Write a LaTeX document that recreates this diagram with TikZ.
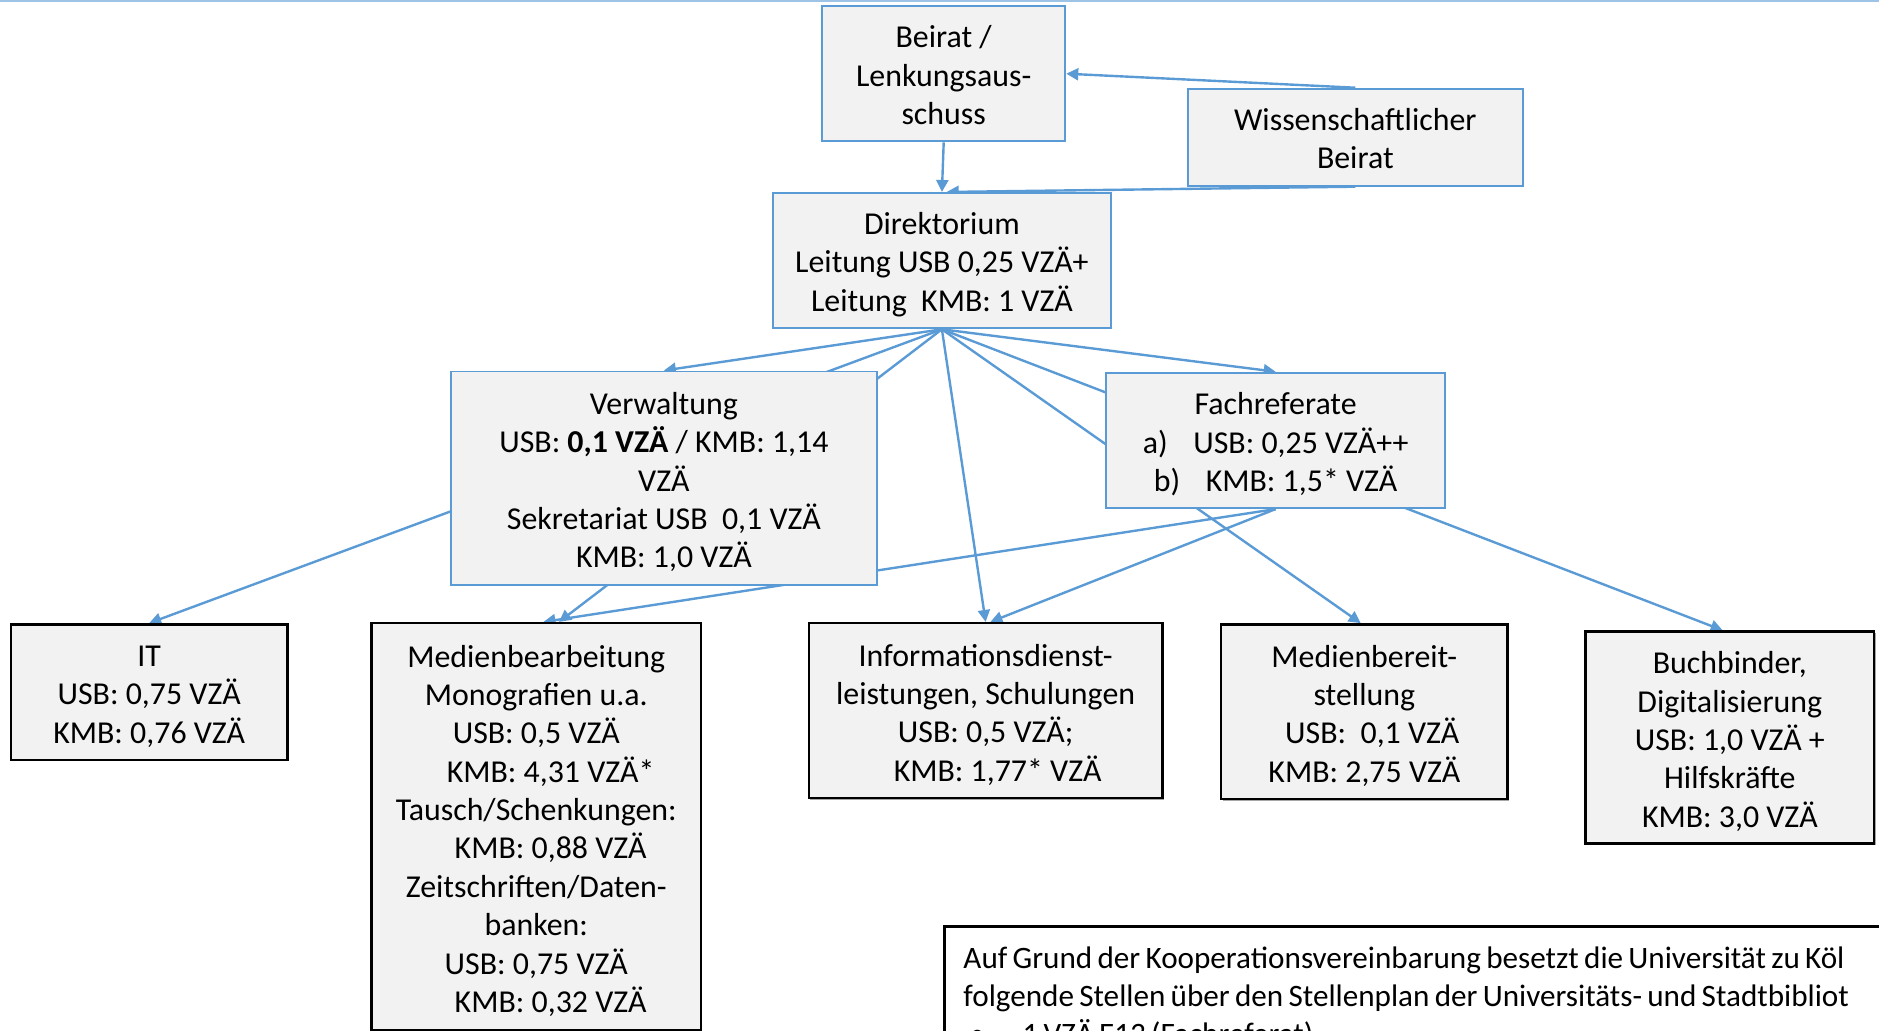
\documentclass[tikz,border=0pt]{standalone}
\usepackage{fontspec}
\setmainfont{Carlito}
\usetikzlibrary{arrows.meta,calc,backgrounds,shadows}
\definecolor{accent}{HTML}{5B9BD5}
\definecolor{boxgray}{HTML}{F2F2F2}
\definecolor{topline}{HTML}{9DC3E6}
\newcommand{\tstrut}{\rule{0pt}{12.5pt}}
\newcommand{\sstrut}{\rule{0pt}{10.5pt}}
\begin{document}
\begin{tikzpicture}[x=0.5pt,y=-0.5pt,
  box/.style={rectangle, fill=boxgray, align=center, inner sep=0pt, font=\fontsize{13.3}{16}\selectfont},
  bluebox/.style={box, draw=accent, line width=0.8pt},
  blackbox/.style={box, draw=black, line width=1pt, drop shadow={shadow xshift=0.6pt, shadow yshift=-0.6pt, opacity=0.35, fill=black}},
  conn/.style={draw=accent, line width=1pt, -{Triangle[length=5pt,width=5pt]}}]
\useasboundingbox (0,0) rectangle (1568,860);
\clip (0,0) rectangle (1568,860);
\draw[topline, line width=0.8pt] (0,0.6) -- (1568,0.6);

\node[bluebox, minimum width=101.5pt, minimum height=56.5pt] (beirat) at (787.5,61.5) {\sstrut Beirat /\\Lenkungsaus-\\schuss};
\node[bluebox, minimum width=140pt, minimum height=40.5pt] (wiss) at (1131,114.5) {\sstrut Wissenschaftlicher\\Beirat};
\node[bluebox, minimum width=141pt, minimum height=56.5pt] (dir) at (786,217.5) {\tstrut Direktorium\\Leitung USB 0,25 VZÄ+\\Leitung\ \ KMB: 1 VZÄ};
\node[bluebox, minimum width=178pt, minimum height=89pt] (verw) at (554,399) {\tstrut Verwaltung\\USB: \textbf{0,1 VZÄ} / KMB: 1,14\\VZÄ\\Sekretariat USB\ \ 0,1 VZÄ\\KMB: 1,0 VZÄ};
\node[bluebox, minimum width=141.5pt, minimum height=56.5pt] (fach) at (1064.5,367.5) {\tstrut Fachreferate\\a)\hspace{0.8em}USB: 0,25 VZÄ++\\b)\hspace{0.8em}KMB: 1,5* VZÄ};

\node[blackbox, minimum width=115.5pt, minimum height=56.5pt] (it) at (124.5,577.5) {\tstrut IT\\USB: 0,75 VZÄ\\KMB: 0,76 VZÄ};
\node[blackbox, minimum width=137.5pt, minimum height=170pt] (med) at (447.5,690) {\tstrut Medienbearbeitung\\Monografien u.a.\\USB: 0,5 VZÄ\\\hspace*{0.9em}KMB: 4,31 VZÄ*\\Tausch/Schenkungen:\\\hspace*{0.9em}KMB: 0,88 VZÄ\\Zeitschriften/Daten-\\banken:\\USB: 0,75 VZÄ\\\hspace*{0.9em}KMB: 0,32 VZÄ};
\node[blackbox, minimum width=147.5pt, minimum height=73pt] (info) at (822.5,593) {\tstrut Informationsdienst-\\leistungen, Schulungen\\USB: 0,5 VZÄ;\\\hspace*{0.75em}KMB: 1,77* VZÄ};
\node[blackbox, minimum width=119.5pt, minimum height=73pt] (mbs) at (1138.5,594) {\tstrut Medienbereit-\\stellung\\\hspace*{0.5em}USB:\ \ 0,1 VZÄ\\KMB: 2,75 VZÄ};
\node[blackbox, minimum width=120.5pt, minimum height=88.5pt] (buch) at (1443.5,615.5) {\tstrut Buchbinder,\\Digitalisierung\\USB: 1,0 VZÄ +\\Hilfskräfte\\KMB: 3,0 VZÄ};

\node[draw=black, line width=1pt, fill=white, anchor=north west, align=left, text width=700pt, inner xsep=8pt, inner ysep=5pt, font=\fontsize{13pt}{16pt}\selectfont] (note) at (787,772) {\spaceskip=0.17em\relax\tstrut Auf Grund der Kooperationsvereinbarung besetzt die Universität zu Köl\\folgende Stellen über den Stellenplan der Universitäts- und Stadtbibliot\\\hspace*{0.2em}\textbullet\hspace{1.2em}1 VZÄ E13 (Fachreferat)};

\begin{scope}[on background layer]
\draw[conn] (wiss.north) -- (beirat.east);
\draw[conn] (beirat.south) -- (dir.north);
\draw[conn] (wiss.south) -- ($(dir.north)+(4,0)$);
\draw[conn] (dir.south) -- (verw.north);
\draw[conn] (dir.south) -- (it.north);
\draw[conn] (dir.south) -- ($(med.north)+(19,0)$);
\draw[conn] (dir.south) -- (info.north);
\draw[conn] (dir.south) -- (fach.north);
\draw[conn] (dir.south) -- ($(mbs.north)+(-3,0)$);
\draw[conn] (dir.south) -- ($(buch.north)+(-6,0)$);
\draw[conn] (fach.south) -- ($(info.north)+(4,0)$);
\draw[conn] (fach.south) -- ($(med.north)+(6,0)$);
\end{scope}
\end{tikzpicture}
\end{document}
